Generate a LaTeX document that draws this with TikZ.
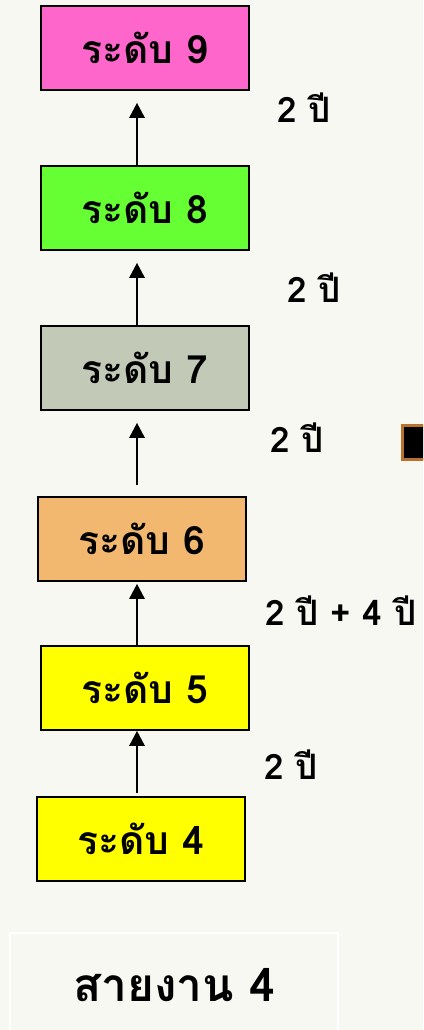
\documentclass[tikz,border=0pt]{standalone}
\usepackage{fontspec}
\newfontfamily\thaifont[Script=Thai]{Loma}
\usetikzlibrary{arrows.meta}

\definecolor{paper}{HTML}{F8F8F2}
\definecolor{lvnine}{HTML}{FF66CC}
\definecolor{lveight}{HTML}{66FF33}
\definecolor{lvseven}{HTML}{C2CAB7}
\definecolor{lvsix}{HTML}{F2B870}
\definecolor{lvyellow}{HTML}{FFFF00}
\definecolor{copper}{HTML}{B8722E}

\tikzset{
  lvl/.style = {draw = black, line width = 1.6pt, minimum width = 208pt,
    minimum height = 84pt, inner sep = 0pt,
    font = \thaifont\bfseries\fontsize{39}{44}\selectfont},
  yrs/.style = {font = \thaifont\bfseries\fontsize{35}{40}\selectfont},
  up/.style = {line width = 2.6pt, -{Triangle[width = 15pt, length = 15pt]}}
}

\begin{document}
\begin{tikzpicture}[x = 1pt, y = -1pt]
        \useasboundingbox (0,0) rectangle (423,1030);
        \fill[paper] (0,0) rectangle (423,1030);
        \clip (0,0) rectangle (423,1030);
        
        % levels
        \node[lvl, fill = lvnine]   (l9) at (145,48)  {ระดับ 9};
        \node[lvl, fill = lveight]  (l8) at (145,208) {ระดับ 8};
        \node[lvl, fill = lvseven]  (l7) at (145,368) {ระดับ 7};
        \node[lvl, fill = lvsix]    (l6) at (142,539) {ระดับ 6};
        \node[lvl, fill = lvyellow] (l5) at (145,688) {ระดับ 5};
        \node[lvl, fill = lvyellow] (l4) at (141,839) {ระดับ 4};
        
        \coordinate (ax) at (137,0);
        
        \draw[up, shorten > = 12pt] (l8.north -| ax) -- (l9.south -| ax);
        \draw[up, shorten > = 12pt] (l7.north -| ax) -- (l8.south -| ax);
        \draw[up, shorten < = 11pt, shorten > = 12pt] (l6.north -| ax) -- (l7.south -| ax);
        \draw[up, shorten > = 2pt] (l5.north -| ax) -- (l6.south -| ax);
        \draw[up, shorten < = 3pt] (l4.north -| ax) -- (l5.south -| ax);
        
        % years
        \node[yrs] (y9) at (304,108) {2 ปี};
        \node[yrs] (y8) at (314,288) {2 ปี};
        \node[yrs] (y7) at (297,438) {2 ปี};
        \node[yrs] (y6) at (341,611) {2 ปี + 4 ปี};
        \node[yrs] (y5) at (291,765) {2 ปี};
        
        \draw[copper, line width = 3pt, fill = black] (402.5,425.5) rectangle (440,459.5);
        
        \draw[white, line width = 1.2pt] (10,933) rectangle (338,1045);
        \node[lvl, draw = none, minimum width = 0pt, minimum height = 0pt,
          font = \thaifont\bfseries\fontsize{46}{52}\selectfont] (line) at (174,985) {สายงาน 4};
    \end{tikzpicture}
\end{document}
